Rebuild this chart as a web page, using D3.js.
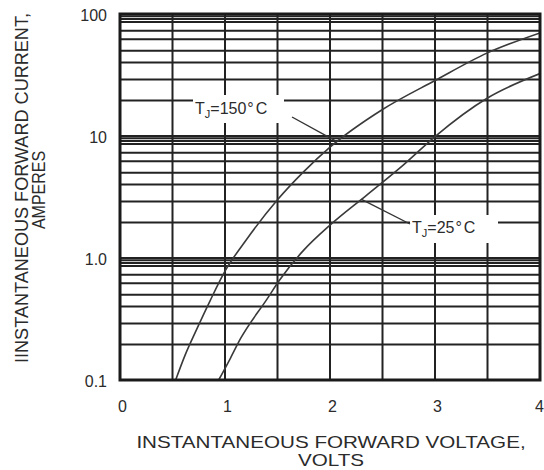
<!DOCTYPE html>
<html><head><meta charset="utf-8">
<script src="https://cdn.jsdelivr.net/npm/d3@7"></script>
<style>
body{margin:0;background:#fff}
svg{display:block}
text{font-family:"Liberation Sans",Arial,Helvetica,sans-serif;fill:#2b2b2b}
</style>
</head><body><svg width="544" height="470"></svg>
<script>
// ---- data ----
const xTickValues = [0, 1, 2, 3, 4];
const xTickLabels = ["0", "1", "2", "3", "4"];
const xGridValues = [0.5, 1, 1.5, 2, 2.5, 3, 3.5];
const yTickValues = [0.1, 1, 10, 100];
const yTickLabels = ["0.1", "1.0", "10", "100"];
const decadeStarts = [0.1, 1, 10];
const gridMultipliers = [1.95, 2.9, 4.0, 5.0, 6.2, 7.3, 8.6, 9.1, 9.6];
const voltage150 = [0.53, 0.62, 0.73, 0.86, 1.0, 1.2, 1.5, 1.75, 2.0, 2.5, 3.0, 3.5, 4.0];
const current150 = [0.1, 0.16, 0.26, 0.45, 0.78, 1.4, 3.0, 5.1, 8.1, 16.5, 28.5, 48, 70];
const voltage25 = [0.94, 1.05, 1.15, 1.4, 1.52, 1.75, 2.0, 2.35, 2.7, 3.0, 3.5, 4.0];
const current25 = [0.1, 0.15, 0.22, 0.46, 0.66, 1.16, 1.86, 3.28, 5.8, 9.9, 20.5, 32.5];
const labelTemps = ["150", "25"];
const pointerVoltages = [2.07, 2.3];
const xTitleLines = ["INSTANTANEOUS FORWARD VOLTAGE,", "VOLTS"];
const yTitleLines = ["IINSTANTANEOUS FORWARD CURRENT,", "AMPERES"];

// ---- layout ----
const L = 120, R = 540, T = 14, B = 380;
const svg = d3.select("svg");
const x = d3.scaleLinear().domain([0, 4]).range([L, R]);
const y = d3.scaleLog().domain([0.1, 100]).range([B, T]);

// grid
const hGrid = [];
decadeStarts.forEach(d => gridMultipliers.forEach(m => hGrid.push(d * m)));
yTickValues.forEach(v => hGrid.push(v));
const grid = svg.append("g").attr("stroke", "#222").attr("stroke-width", 2);
grid.selectAll("line.h").data(hGrid).join("line").attr("class", "h")
  .attr("x1", L).attr("x2", R).attr("y1", d => y(d)).attr("y2", d => y(d));
grid.selectAll("line.v").data(xGridValues).join("line").attr("class", "v")
  .attr("y1", T).attr("y2", B).attr("x1", d => x(d)).attr("x2", d => x(d));

// curves
const series = [
  {v: voltage150, i: current150},
  {v: voltage25, i: current25}
];
svg.append("clipPath").attr("id", "clip").append("rect")
  .attr("x", L).attr("y", T).attr("width", R - L).attr("height", B - T);
const line = d3.line().x(d => x(d[0])).y(d => y(d[1])).curve(d3.curveMonotoneX);
svg.append("g").attr("clip-path", "url(#clip)")
  .selectAll("path").data(series).join("path")
  .attr("d", s => line(s.v.map((v, k) => [v, s.i[k]])))
  .attr("fill", "none").attr("stroke", "#3a3a3a").attr("stroke-width", 1.6);

function currentAt(s, v) {
  for (let k = 0; k < s.v.length - 1; k++) {
    if (v >= s.v[k] && v <= s.v[k + 1]) {
      const t = (v - s.v[k]) / (s.v[k + 1] - s.v[k]);
      return Math.pow(10, Math.log10(s.i[k]) + t * (Math.log10(s.i[k + 1]) - Math.log10(s.i[k])));
    }
  }
  return s.i[s.i.length - 1];
}

// labels
const labelPos = [
  {tx: 195, ty: 114, box: [193, 95, 284, 123], lx: 292, ly: 117},
  {tx: 412, ty: 233, box: [410, 215, 498, 243], lx: 410, ly: 224}
];
labelTemps.forEach((temp, k) => {
  const p = labelPos[k];
  svg.append("rect").attr("x", p.box[0]).attr("y", p.box[1])
    .attr("width", p.box[2] - p.box[0]).attr("height", p.box[3] - p.box[1]).attr("fill", "#fff");
  const tv = pointerVoltages[k];
  svg.append("line").attr("x1", p.lx).attr("y1", p.ly)
    .attr("x2", x(tv)).attr("y2", y(currentAt(series[k], tv)))
    .attr("stroke", "#333").attr("stroke-width", 1.4);
  const t = svg.append("text").attr("x", p.tx).attr("y", p.ty).attr("font-size", 16);
  t.append("tspan").text("T");
  t.append("tspan").attr("font-size", 11).attr("dy", 4).text("J");
  t.append("tspan").attr("dy", -4).text("=" + temp);
  t.append("tspan").attr("dx", 1).text("°");
  t.append("tspan").attr("dx", 2).text("C");
});

// frame
svg.append("rect").attr("x", L).attr("y", T).attr("width", R - L).attr("height", B - T)
  .attr("fill", "none").attr("stroke", "#1a1a1a").attr("stroke-width", 3);

// axes
const xAxis = svg.append("g").attr("transform", `translate(2,${B})`)
  .call(d3.axisBottom(x).tickValues(xTickValues).tickFormat((d, k) => xTickLabels[k])
    .tickSize(0).tickPadding(21));
const yAxis = svg.append("g").attr("transform", `translate(${L},1)`)
  .call(d3.axisLeft(y).tickValues(yTickValues).tickFormat((d, k) => yTickLabels[k])
    .tickSize(0).tickPadding(13));
[xAxis, yAxis].forEach(a => {
  a.select(".domain").remove();
  a.attr("font-family", null).attr("font-size", null);
  a.selectAll("text").attr("font-size", 16).attr("fill", "#2b2b2b");
});
// last x label sits at the right edge, as in the reference
xAxis.selectAll(".tick").filter(d => d === 4).select("text").attr("x", -3);

// axis titles
const xt = svg.append("g").attr("transform", "translate(331,0) scale(1.29,1)");
xt.selectAll("text").data(xTitleLines).join("text")
  .attr("x", 0).attr("y", (d, k) => 448 + k * 18)
  .attr("text-anchor", "middle").attr("font-size", 16).text(d => d);
const ytCenters = [188, 190];
const ytBase = [28, 45];
const ytLengths = [350, null];
yTitleLines.forEach((s, k) => {
  const t = svg.append("text")
    .attr("transform", `translate(${ytBase[k]},${ytCenters[k]}) scale(1.2,1) rotate(-90)`)
    .attr("text-anchor", "middle").attr("font-size", 16).text(s);
  if (ytLengths[k]) t.attr("textLength", ytLengths[k]).attr("lengthAdjust", "spacingAndGlyphs");
});
</script>
</body></html>
